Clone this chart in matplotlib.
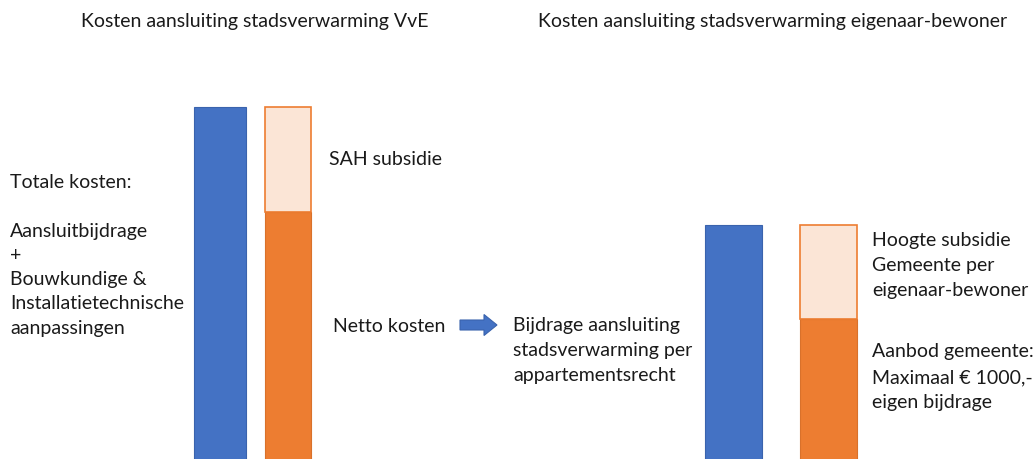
import matplotlib
matplotlib.use("Agg")
import matplotlib.pyplot as plt
from matplotlib.patches import FancyArrow

# ---- data (relative cost units, VvE total = 100) ----
vve_totaal = 100
vve_netto = 71
vve_sah_subsidie = vve_totaal - vve_netto

eb_totaal = 67.5
eb_eigen_bijdrage = 41.5
eb_subsidie_gemeente = eb_totaal - eb_eigen_bijdrage

titles = ["Kosten aansluiting stadsverwarming VvE",
          "Kosten aansluiting stadsverwarming eigenaar-bewoner"]
left_text = ["Totale kosten:", "", "Aansluitbijdrage", "+", "Bouwkundige &",
             "Installatietechnische", "aanpassingen"]
sah_text = "SAH subsidie"
netto_text = "Netto kosten"
bijdrage_text = ["Bijdrage aansluiting", "stadsverwarming per", "appartementsrecht"]
hoogte_text = ["Hoogte subsidie", "Gemeente per", "eigenaar-bewoner"]
aanbod_text = ["Aanbod gemeente:", "Maximaal € 1000,-", "eigen bijdrage"]

BLUE = "#4472C4"
BLUE_EDGE = "#3A63AD"
ORANGE = "#ED7D31"
LIGHT_ORANGE = "#FBE5D6"

W, H = 1036, 460
plt.rcParams["font.family"] = ["Lato", "DejaVu Sans"]
fig = plt.figure(figsize=(W / 100, H / 100), dpi=100)

# bar axes: x in pixels, y in cost units (0 sits just below the image)
ax = fig.add_axes([0, 0, 1, 1])
scale = 3.62  # pixels per unit
ax.set_xlim(0, W)
ax.set_ylim(10 / scale, 470 / scale)
ax.axis("off")

# VvE bars
ax.bar(219.5, vve_totaal, width=52, color=BLUE, edgecolor=BLUE_EDGE, linewidth=0.8)
ax.bar(288, vve_netto, width=46, color=ORANGE, edgecolor="#D9712B", linewidth=0.8)
ax.bar(288, vve_sah_subsidie, bottom=vve_netto, width=46, color=LIGHT_ORANGE,
       edgecolor=ORANGE, linewidth=1.2)

# eigenaar-bewoner bars
ax.bar(733.5, eb_totaal, width=57, color=BLUE, edgecolor=BLUE_EDGE, linewidth=0.8)
ax.bar(828.5, eb_eigen_bijdrage, width=57, color=ORANGE, edgecolor="#D9712B", linewidth=0.8)
ax.bar(828.5, eb_subsidie_gemeente, bottom=eb_eigen_bijdrage, width=57,
       color=LIGHT_ORANGE, edgecolor=ORANGE, linewidth=1.2)

# overlay axes for text and arrow, pixel coordinates (y down)
ov = fig.add_axes([0, 0, 1, 1], facecolor="none")
ov.set_xlim(0, W)
ov.set_ylim(H, 0)
ov.axis("off")

fs = 14
col = "#1a1a1a"
ov.text(255, 22, titles[0], ha="center", va="center", fontsize=fs, color=col)
ov.text(773, 22, titles[1], ha="center", va="center", fontsize=fs, color=col)

def lines(x, y0, items, step):
    for i, t in enumerate(items):
        if t:
            ov.text(x, y0 + i * step, t, ha="left", va="center", fontsize=fs, color=col)

lines(10, 183, left_text, 24.2)
ov.text(329, 160, sah_text, ha="left", va="center", fontsize=fs, color=col)
ov.text(333, 327, netto_text, ha="left", va="center", fontsize=fs, color=col)
lines(513, 326, bijdrage_text, 25)
lines(872, 241, hoogte_text, 25)
lines(872, 352, aanbod_text, 25.5)

arrow = FancyArrow(460, 326, 37, 0, width=10, head_width=21, head_length=13,
                   length_includes_head=True, facecolor=BLUE, edgecolor=BLUE_EDGE,
                   linewidth=0.8)
ov.add_patch(arrow)

fig.savefig("out.png", dpi=100, facecolor="white")
